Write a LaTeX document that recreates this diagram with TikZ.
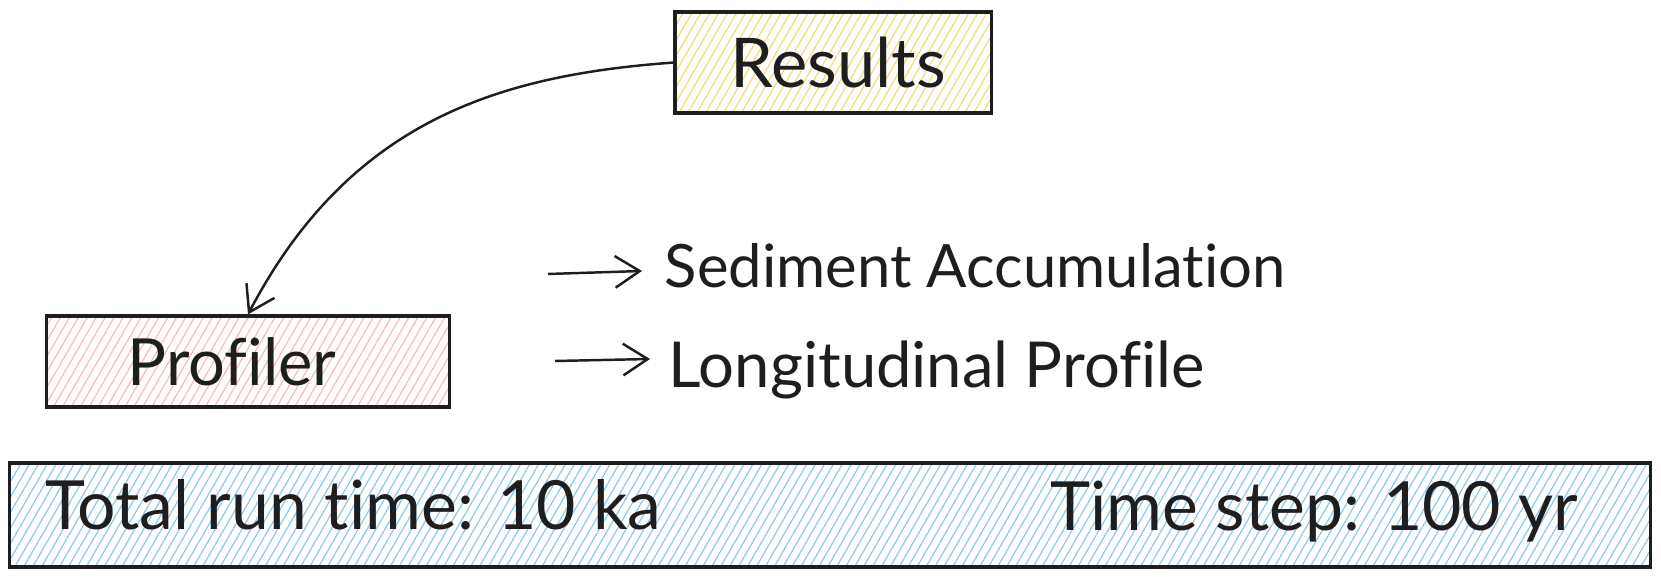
\documentclass[tikz,border=0pt]{standalone}
\usepackage{fontspec}
\setmainfont{Lato}[Ligatures=NoCommon]
\usepackage{xcolor}
\usetikzlibrary{arrows.meta,patterns.meta}

\definecolor{ink}{HTML}{1E1E1E}
\definecolor{hatchy}{HTML}{F5D97A}
\definecolor{hatchr}{HTML}{FFB8B8}
\definecolor{hatchb}{HTML}{8CC8F5}

\begin{document}
\begin{tikzpicture}
  [x=0.01cm,y=-0.01cm,
   box/.style={draw=ink,line width=0.9pt,inner sep=0pt,text=ink},
   hatch/.style={pattern={Lines[angle=60,distance=2.2pt,line width=0.35pt]},pattern color=#1},
   txt/.style={inner sep=0pt,text=ink},
   fs/.style={font=\fontsize{#1}{#1}\selectfont},
   arr/.style={draw=ink,line width=0.7pt,-{Straight Barb[length=7pt,width=9pt]}}]
  \useasboundingbox (0,0) rectangle (1661,577);

  \node[box,fs=19.5,hatch=hatchy,minimum width=3.16cm,minimum height=1.01cm] (res) at (833,62.5) {\hspace{3pt}Results};
  \node[box,fs=18.5,hatch=hatchr,minimum width=4.02cm,minimum height=0.91cm] (prof) at (248,361.5) {\hspace{-9pt}Profiler};
  \node[box,hatch=hatchb,minimum width=16.40cm,minimum height=1.04cm] (bar) at (830,515) {};

  \node[txt,fs=19.3,anchor=base west] (run) at (45,530) {Total run time: 10 ka};
  \node[txt,fs=19.3,anchor=base east] (dt) at (1579,531) {Time step: 100 yr};
  \node[txt,fs=17,anchor=base west] (sed) at (664,288) {Sediment Accumulation};
  \node[txt,fs=18,anchor=base west] (lon) at (668,388) {Longitudinal Profile};

  \coordinate (s1) at (548,274);
  \coordinate (s2) at (642,271);
  \coordinate (l1) at (555,361);
  \coordinate (l2) at (650,359);

  \draw[arr] (res.west) .. controls (500,75) and (350,120) .. (prof.north);
  \foreach \from/\to in {s1/s2, l1/l2}
    \draw[arr] (\from) -- (\to);

\end{tikzpicture}
\end{document}
